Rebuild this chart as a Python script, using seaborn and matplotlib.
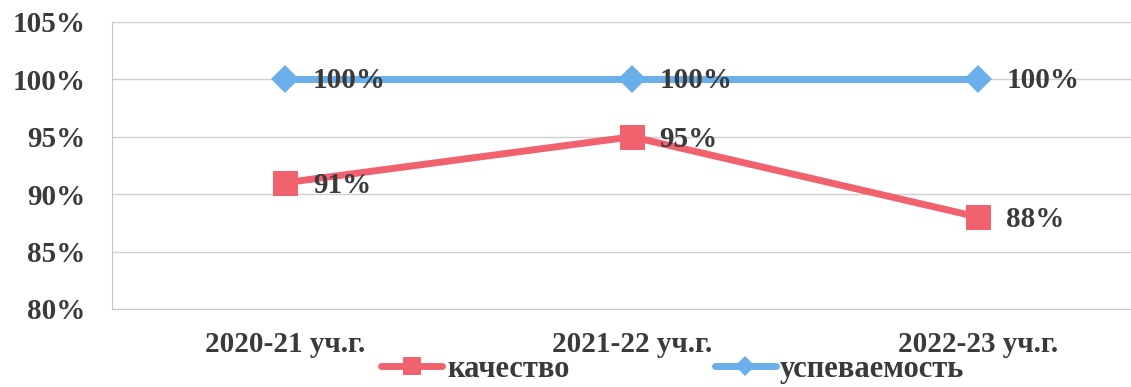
import pandas as pd
import seaborn as sns
import matplotlib.pyplot as plt
from matplotlib.lines import Line2D

# данные графика
years = ['2020-21 уч.г.', '2021-22 уч.г.', '2022-23 уч.г.']
kachestvo = [91, 95, 88]
uspevaemost = [100, 100, 100]
y_ticks = [80, 85, 90, 95, 100, 105]

df = pd.DataFrame({'год': years, 'качество': kachestvo, 'успеваемость': uspevaemost})

sns.set_style('white')
plt.rcParams['font.family'] = ['Liberation Serif', 'DejaVu Serif']
plt.rcParams['font.weight'] = 'bold'

red = '#f1626f'
blue = '#6aafe9'
txt = '#3a3a3a'

fig = plt.figure(figsize=(11.31, 3.87), dpi=100)
ax = fig.add_axes([0.099, 0.2016, 0.901, 0.7416])

sns.lineplot(data=df, x='год', y='качество', ax=ax, color=red, lw=5,
             marker='s', markersize=18, markeredgewidth=0, sort=False)
sns.lineplot(data=df, x='год', y='успеваемость', ax=ax, color=blue, lw=5,
             marker='D', markersize=14, markeredgewidth=0, sort=False)

# подписи значений
for i, v in enumerate(kachestvo):
    ax.annotate(f'{v}%', (i, v), xytext=(20, -2), textcoords='offset points',
                fontsize=21, fontweight='bold', color=txt, va='center', ha='left')
for i, v in enumerate(uspevaemost):
    ax.annotate(f'{v}%', (i, v), xytext=(20, -1), textcoords='offset points',
                fontsize=21, fontweight='bold', color=txt, va='center', ha='left')

ax.set_ylim(80, 105)
ax.set_xlim(-0.5, 2.44)
ax.set_yticks(y_ticks)
ax.set_yticklabels([f'{t}%' for t in y_ticks], fontsize=21, fontweight='bold', color=txt)
ax.set_xticks([0.5, 1.5])
ax.set_xticklabels([])
ax.tick_params(axis='x', length=6, color='#c8c8c8', width=1)
ax.tick_params(axis='y', length=6, color='#c8c8c8', width=1, pad=13)
for i, y in enumerate(years):
    ax.text(i, -0.125, y, transform=ax.get_xaxis_transform(), ha='center', va='center',
            fontsize=21, fontweight='bold', color=txt)

ax.grid(axis='y', color='#d0d0d0', lw=1)
ax.set_axisbelow(True)
ax.set_xlabel('')
ax.set_ylabel('')
for s in ['top', 'right']:
    ax.spines[s].set_visible(False)
ax.spines['left'].set_color('#c8c8c8')
ax.spines['bottom'].set_color('#c8c8c8')

handles = [Line2D([], [], color=red, lw=5, marker='s', markersize=13, markeredgewidth=0),
           Line2D([], [], color=blue, lw=5, marker='D', markersize=10, markeredgewidth=0)]
leg = fig.legend(handles, ['качество', 'успеваемость'], loc='center', bbox_to_anchor=(0.595, 0.045),
                 ncol=2, frameon=False, fontsize=22, handlelength=2.0, handletextpad=0.15,
                 columnspacing=4.75, borderpad=0.1)
for t in leg.get_texts():
    t.set_color(txt)
    t.set_fontweight('bold')

fig.savefig('out.png', dpi=100, facecolor='white')
